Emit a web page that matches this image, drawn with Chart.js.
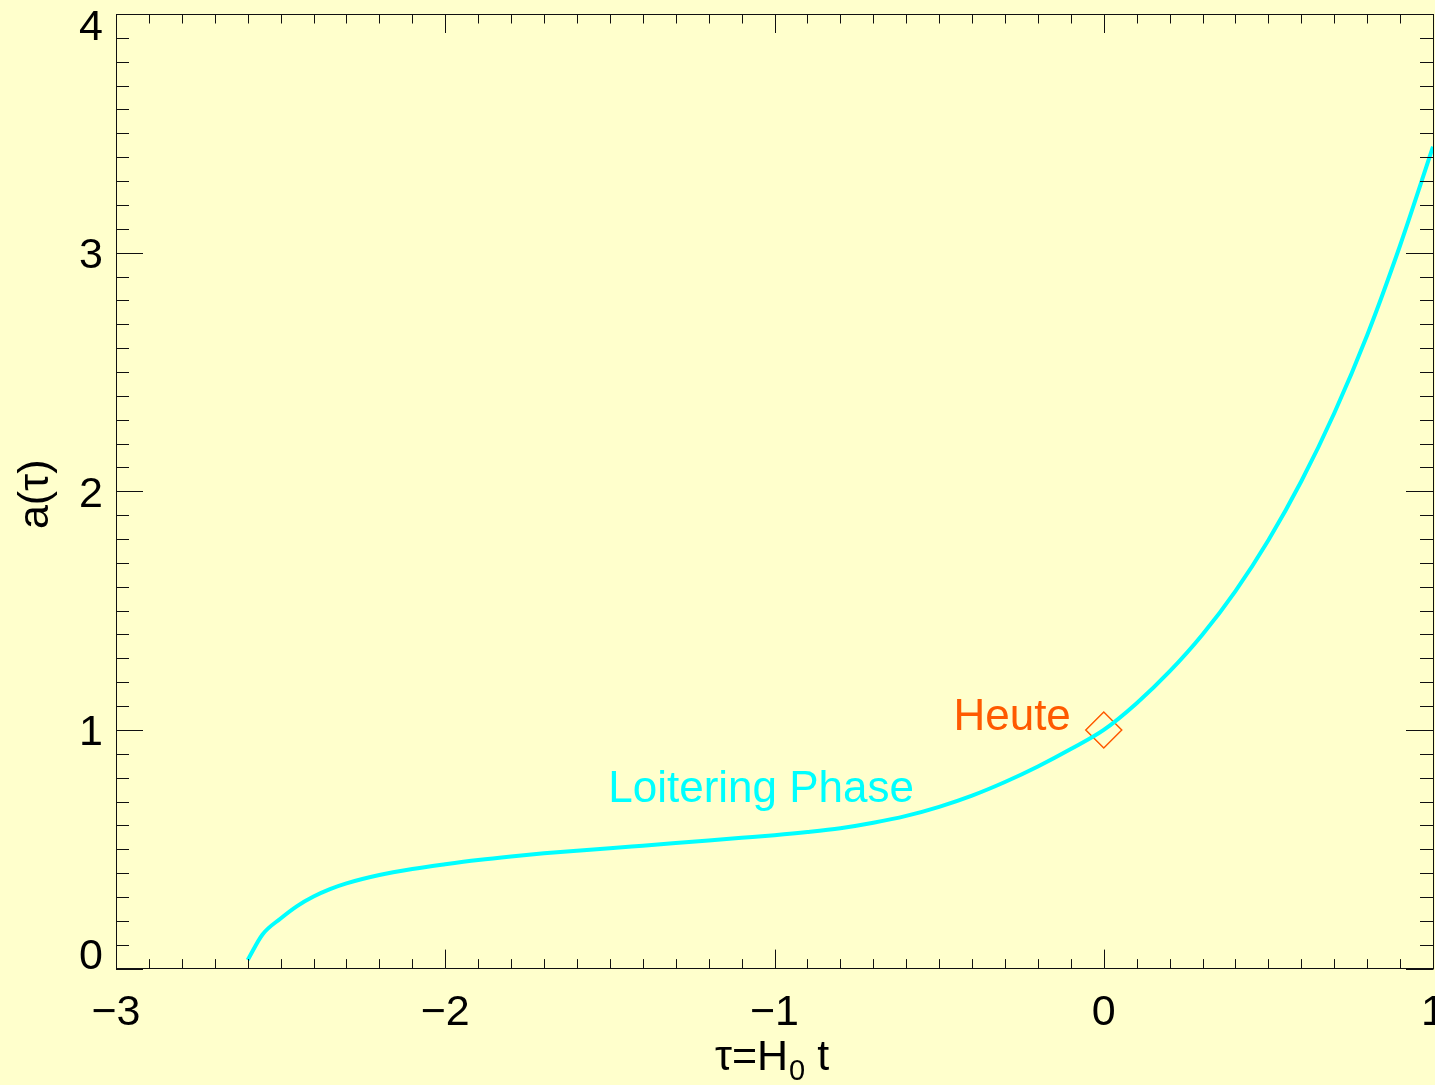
<!DOCTYPE html>
<html>
<head>
<meta charset="utf-8">
<script src="https://cdn.jsdelivr.net/npm/chart.js@4/dist/chart.umd.min.js"></script>
<style>
  html, body { margin: 0; padding: 0; background: #ffffcc; }
  #wrap { width: 1435px; height: 1085px; position: relative; }
</style>
</head>
<body>
<div id="wrap"><canvas id="chart"></canvas></div>
<script>
// scale factor a(tau), tau = H0 t
const tau = [-2.60, -2.555, -2.50, -2.45, -2.40, -2.35, -2.30, -2.20, -2.10, -2.00,
             -1.90, -1.80, -1.70, -1.60, -1.50, -1.40, -1.30, -1.20, -1.10, -1.00,
             -0.90, -0.80, -0.70, -0.60, -0.50, -0.40, -0.30, -0.20, -0.10, 0.00,
             0.10, 0.20, 0.30, 0.40, 0.50, 0.60, 0.70, 0.80, 0.90, 1.00];
const scaleA = [0.036, 0.143, 0.210, 0.262, 0.302, 0.333, 0.357, 0.392, 0.417, 0.437,
                0.455, 0.470, 0.483, 0.494, 0.504, 0.515, 0.526, 0.537, 0.548, 0.559,
                0.572, 0.588, 0.611, 0.640, 0.678, 0.725, 0.782, 0.847, 0.920, 1.000,
                1.112, 1.245, 1.400, 1.582, 1.795, 2.042, 2.327, 2.654, 3.030, 3.444];

// today marker
const todayTau = [0];
const todayA = [1];

const xTicks = [-3, -2, -1, 0, 1];
const yTicks = [0, 1, 2, 3, 4];
const minorStep = 0.1;

const labels = [
    { text: 'Heute', x: -0.10, y: 1.00, align: 'right', color: '#ff5a00' },
    { text: 'Loitering Phase', x: -1.505, y: 0.70, align: 'left', color: '#00ffff' }
];

const FONT = "'Liberation Sans', Arial, Helvetica, sans-serif";
const fmt = v => (v < 0 ? '\u2212' + Math.abs(v) : String(v));

// draws the IDL-style frame: inward ticks on all four sides, labels, titles
const idlFrame = {
    id: 'idlFrame',
    beforeDraw(chart) {
        const ctx = chart.ctx;
        ctx.save();
        ctx.fillStyle = '#ffffcc';
        ctx.fillRect(0, 0, chart.width, chart.height);
        ctx.restore();
    },
    afterDraw(chart) {
        const { ctx, chartArea: area, scales: { x, y } } = chart;
        const px = v => Math.round(v) + 0.5;
        ctx.save();
        ctx.strokeStyle = '#111';
        ctx.lineWidth = 1;

        // top and right edges of the box
        ctx.beginPath();
        ctx.moveTo(px(area.left), px(area.top));
        ctx.lineTo(px(area.right), px(area.top));
        ctx.lineTo(px(area.right), px(area.bottom));
        ctx.stroke();

        // x ticks (bottom + top)
        ctx.beginPath();
        for (let i = 0; i <= 40; i++) {
            const v = -3 + i * minorStep;
            const major = i % 10 === 0;
            const len = major ? 19 : 9.5;
            const xp = px(x.getPixelForValue(v));
            ctx.moveTo(xp, area.bottom);
            ctx.lineTo(xp, area.bottom - len);
            ctx.moveTo(xp, area.top);
            ctx.lineTo(xp, area.top + len);
        }
        // y ticks (left + right)
        for (let i = 0; i <= 40; i++) {
            const v = i * minorStep;
            const major = i % 10 === 0;
            const len = major ? 27 : 13;
            const yp = px(y.getPixelForValue(v));
            ctx.moveTo(area.left, yp);
            ctx.lineTo(area.left + len, yp);
            ctx.moveTo(area.right, yp);
            ctx.lineTo(area.right - len, yp);
        }
        ctx.stroke();

        // tick labels
        ctx.fillStyle = '#000';
        ctx.font = '43px ' + FONT;
        ctx.textBaseline = 'alphabetic';
        ctx.textAlign = 'center';
        xTicks.forEach(v => {
            ctx.fillText(fmt(v), x.getPixelForValue(v), area.bottom + 56);
        });
        ctx.textAlign = 'right';
        yTicks.forEach((v, i) => {
            let off = 15.5;
            if (i === 0) off = 0;
            if (i === yTicks.length - 1) off = 26;
            ctx.fillText(fmt(v), area.left - 13, y.getPixelForValue(v) + off);
        });

        // x title: tau = H_0 t
        const base = 1070;
        const partA = '\u03c4=H', sub = '0', partB = ' t';
        ctx.font = '43px ' + FONT;
        const wA = ctx.measureText(partA).width;
        const wB = ctx.measureText(partB).width;
        ctx.font = '29px ' + FONT;
        const wS = ctx.measureText(sub).width;
        const cx = (area.left + area.right) / 2 - 3;
        let sx = cx - (wA + wS + wB) / 2;
        ctx.textAlign = 'left';
        ctx.font = '43px ' + FONT;
        ctx.fillText(partA, sx, base);
        ctx.font = '29px ' + FONT;
        ctx.fillText(sub, sx + wA + 1, base + 10);
        ctx.font = '43px ' + FONT;
        ctx.fillText(partB, sx + wA + wS + 1, base);

        // y title: a(tau)
        ctx.save();
        ctx.translate(48, (area.top + area.bottom) / 2 + 3);
        ctx.rotate(-Math.PI / 2);
        ctx.textAlign = 'center';
        ctx.fillText('a(\u03c4)', 0, 0);
        ctx.restore();

        // annotations
        ctx.font = '44px ' + FONT;
        labels.forEach(l => {
            ctx.fillStyle = l.color;
            ctx.textAlign = l.align;
            ctx.fillText(l.text, x.getPixelForValue(l.x), y.getPixelForValue(l.y));
        });
        ctx.restore();
    }
};

new Chart(document.getElementById('chart'), {
    type: 'line',
    data: {
        datasets: [{
            label: 'a(tau)',
            data: tau.map((t, i) => ({ x: t, y: scaleA[i] })),
            borderColor: '#00ffff',
            borderWidth: 4,
            pointRadius: 0,
            cubicInterpolationMode: 'monotone',
            fill: false
        }, {
            label: 'Heute',
            type: 'scatter',
            data: todayTau.map((t, i) => ({ x: t, y: todayA[i] })),
            pointStyle: 'rectRot',
            pointRadius: 18,
            borderColor: '#ff5a00',
            borderWidth: 1.5,
            backgroundColor: 'rgba(0,0,0,0)'
        }]
    },
    options: {
        responsive: true,
        maintainAspectRatio: false,
        animation: false,
        layout: { autoPadding: false, padding: { left: 0, top: 14, right: 2, bottom: 0 } },
        plugins: { legend: { display: false }, tooltip: { enabled: false } },
        scales: {
            x: {
                type: 'linear',
                min: -3, max: 1,
                grid: { display: false },
                border: { display: true, color: '#111', width: 1 },
                ticks: { display: false },
                afterFit: s => { s.height = 116.4; s.paddingLeft = 0; s.paddingRight = 0; }
            },
            y: {
                type: 'linear',
                min: 0, max: 4,
                grid: { display: false },
                border: { display: true, color: '#111', width: 1 },
                ticks: { display: false },
                afterFit: s => { s.width = 116; s.paddingTop = 0; s.paddingBottom = 0; }
            }
        }
    },
    plugins: [idlFrame]
});
</script>
</body>
</html>
